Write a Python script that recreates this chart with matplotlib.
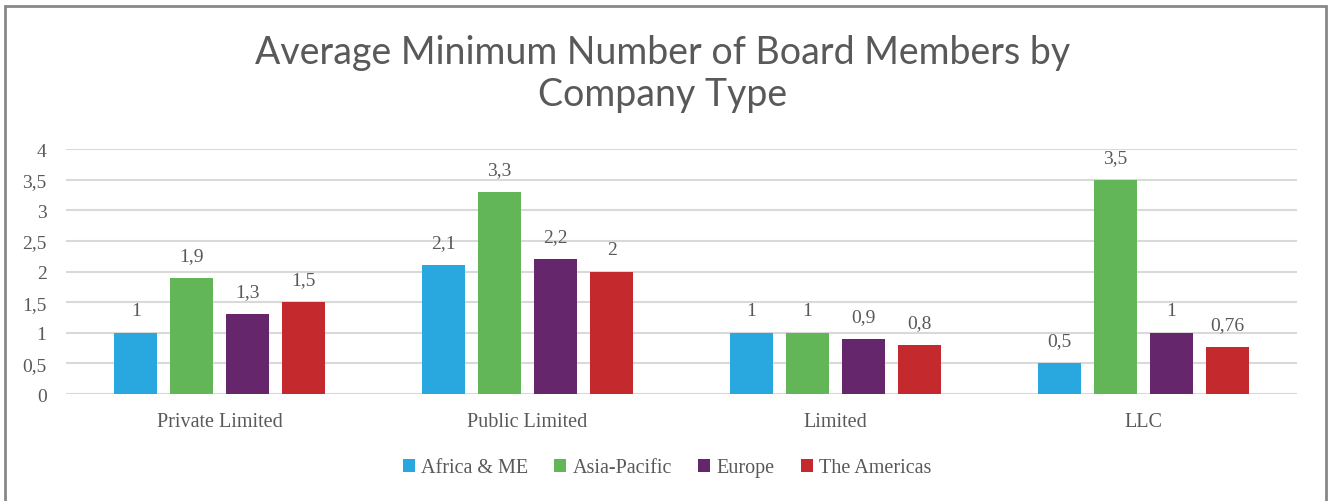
import numpy as np
import matplotlib.pyplot as plt
from matplotlib.patches import Rectangle

# data
company_types = ["Private Limited", "Public Limited", "Limited", "LLC"]
regions = ["Africa & ME", "Asia-Pacific", "Europe", "The Americas"]
africa_me = [1, 2.1, 1, 0.5]
asia_pacific = [1.9, 3.3, 1, 3.5]
europe = [1.3, 2.2, 0.9, 1]
americas = [1.5, 2, 0.8, 0.76]
colors = ["#29A8E0", "#63B657", "#65266B", "#C4292E"]

series = [africa_me, asia_pacific, europe, americas]

serif = ["Liberation Serif", "DejaVu Serif"]
grey = "#595959"

fig = plt.figure(figsize=(13.3, 5.02), dpi=100)
ax = fig.add_axes([0.0496, 0.2131, 0.9256, 0.488])

x = np.arange(len(company_types))
pitch = 0.182
width = 0.14
for i, (vals, name, col) in enumerate(zip(series, regions, colors)):
    pos = x + (i - 1.5) * pitch
    bars = ax.bar(pos, vals, width, color=col, label=name, zorder=3)
    for b, v in zip(bars, vals):
        ax.annotate(f"{v:g}".replace(".", ","), (b.get_x() + b.get_width() / 2, v),
                    xytext=(0, 10), textcoords="offset points", ha="center", va="bottom",
                    fontsize=14, color=grey, family=serif)

ax.set_xlim(-0.5, 3.5)
ax.set_ylim(0, 4)
ticks = np.arange(0, 4.01, 0.5)
ax.set_yticks(ticks)
ax.set_yticklabels([f"{t:g}".replace(".", ",") for t in ticks], family=serif, fontsize=14, color=grey)
ax.set_xticks(x)
ax.set_xticklabels(company_types, family=serif, fontsize=14.5, color=grey)
ax.tick_params(axis="both", length=0)
ax.tick_params(axis="y", pad=14)
ax.tick_params(axis="x", pad=13)
ax.grid(axis="y", color="#D9D9D9", linewidth=1.5, zorder=0)
for s in ax.spines.values():
    s.set_visible(False)

fig.text(0.4985, 0.852, "Average Minimum Number of Board Members by\nCompany Type",
         ha="center", va="center", fontsize=27, color=grey, family=["Lato", "DejaVu Sans"],
         linespacing=1.2)

leg = fig.legend(loc="center", bbox_to_anchor=(667 / 1330, 1 - 469 / 502), ncol=4, frameon=False,
                 handlelength=0.6, handleheight=0.6, handletextpad=0.3, columnspacing=1.3,
                 prop={"family": serif, "size": 14.5})
for t in leg.get_texts():
    t.set_color(grey)

# outer frame of the chart (open at the bottom)
fig.patches.append(Rectangle((5 / 1330, -0.05), 1321 / 1330, 1.05 - 7 / 502, transform=fig.transFigure,
                             fill=False, edgecolor="#888888", linewidth=2))

plt.savefig("out.png", dpi=100)
plt.close()
